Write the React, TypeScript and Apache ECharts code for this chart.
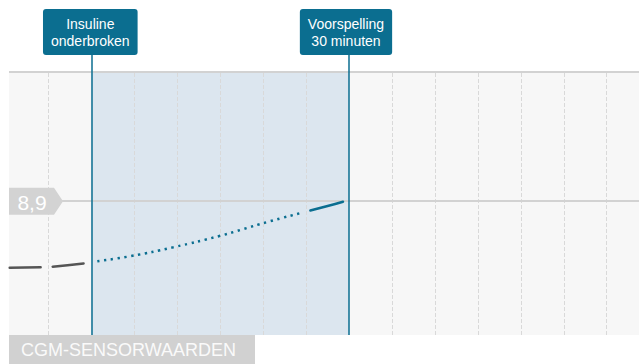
import React, { useEffect, useRef } from "react";
import * as echarts from "echarts";

// ---- data ----
const timeHistory = [-9.5, -5.6, -4.5, -0.5];
const glucoseHistory = [7.46, 7.47, 7.48, 7.56];
const timePrediction = [0.7, 4.6, 9.5, 15, 17.4, 20.5, 24.3];
const glucosePrediction = [7.6, 7.71, 7.9, 8.15, 8.28, 8.45, 8.64];
const timeForecastEnd = [25.5, 27.4, 29.3];
const glucoseForecastEnd = [8.7, 8.79, 8.89];
const gridTicks = [-5, 5, 10, 15, 20, 25, 35, 40, 45, 50, 55, 60];
const thresholdValue = 8.9;
const thresholdLabel = "8,9";
const eventTimes = [0, 30];
const eventLabels = ["Insuline\nonderbroken", "Voorspelling\n30 minuten"];
const axisTitle = "CGM-SENSORWAARDEN";

// axis ranges
const X_MIN = -9.58;
const X_MAX = 63.76;
const Y_MIN = 6;
const Y_MAX = 12.07;
const PLOT_TOP = 11.7;

const TEAL = "#0b6e90";
const FONT = "'Liberation Sans', Arial, Helvetica, sans-serif";

const zip = (a: number[], b: number[]) => a.map((v, i) => [v, b[i]]);

export default function App() {
  const ref = useRef<HTMLDivElement>(null);
  useEffect(() => {
    if (!ref.current) return;
    const chart = echarts.init(ref.current, undefined, { renderer: "svg" });
    const labelOffsets = [[-1, 0], [-3, 0]];
    chart.setOption({
      animation: false,
      textStyle: { fontFamily: FONT },
      title: {
        text: axisTitle,
        left: 9,
        top: 335,
        backgroundColor: "#d1d1d1",
        padding: [5, 19, 5, 12],
        textStyle: {
          color: "#fafafa",
          fontSize: 18,
          lineHeight: 19,
          fontWeight: "normal",
          fontFamily: FONT,
        },
      },
      grid: { left: 9, right: 0, top: 55, bottom: 29 },
      xAxis: { type: "value", min: X_MIN, max: X_MAX, show: false },
      yAxis: { type: "value", min: Y_MIN, max: Y_MAX, show: false },
      series: [
        {
          type: "line",
          name: "history",
          clip: false,
          data: zip(timeHistory, glucoseHistory),
          smooth: true,
          showSymbol: false,
          symbol: "none",
          z: 3,
          lineStyle: { color: "#555555", width: 2.5, type: [31, 12], cap: "round" },
          markArea: {
            silent: true,
            z: 0,
            data: [
              [
                { coord: [X_MIN, Y_MIN], itemStyle: { color: "#f7f7f7" } },
                { coord: [X_MAX, PLOT_TOP] },
              ],
              [
                { coord: [eventTimes[0], Y_MIN], itemStyle: { color: "#dce6ef" } },
                { coord: [eventTimes[1], PLOT_TOP] },
              ],
            ],
          },
          markLine: {
            silent: true,
            z: 1,
            symbol: "none",
            label: { show: false },
            data: [
              ...gridTicks.map((t) => [
                {
                  coord: [t, Y_MIN],
                  lineStyle: { color: "#d9d9d9", width: 1, type: [4, 2] },
                },
                { coord: [t, PLOT_TOP] },
              ]),
              [
                { coord: [X_MIN, thresholdValue], lineStyle: { color: "#d2d2d2", width: 2, type: "solid" } },
                { coord: [X_MAX, thresholdValue] },
              ],
              [
                { coord: [X_MIN, PLOT_TOP], lineStyle: { color: "#d2d2d2", width: 2, type: "solid" } },
                { coord: [X_MAX, PLOT_TOP] },
              ],
            ],
          },
        },
        {
          type: "line",
          name: "prediction",
          clip: false,
          data: zip(timePrediction, glucosePrediction),
          smooth: true,
          showSymbol: false,
          symbol: "none",
          z: 3,
          lineStyle: { color: TEAL, width: 2.5, type: [2.3, 4.55], cap: "butt" },
        },
        {
          type: "line",
          name: "forecast",
          clip: false,
          data: zip(timeForecastEnd, glucoseForecastEnd),
          smooth: true,
          showSymbol: false,
          symbol: "none",
          z: 3,
          lineStyle: { color: TEAL, width: 2.5, type: "solid", cap: "round" },
          markLine: {
            silent: true,
            z: 6,
            symbol: "none",
            data: eventTimes.map((t, i) => [
              {
                coord: [t, Y_MIN],
                lineStyle: { color: TEAL, width: 1.5, type: "solid" },
                label: {
                  show: true,
                  position: "end",
                  distance: 0,
                  formatter: eventLabels[i],
                  backgroundColor: TEAL,
                  color: "#ffffff",
                  fontSize: 14,
                  lineHeight: 17,
                  padding: [6, 8, 6, 8],
                  borderRadius: 3,
                  align: "center",
                  fontFamily: FONT,
                  offset: labelOffsets[i],
                },
              },
              { coord: [t, Y_MAX] },
            ]),
          },
          markPoint: {
            silent: true,
            z: 7,
            data: [
              {
                coord: [X_MIN, thresholdValue],
                symbol: "path://M0,0L45,0L54,13.5L45,27L0,27Z",
                symbolSize: [54, 27],
                symbolOffset: [27, 0],
                itemStyle: { color: "#d3d3d3" },
                label: {
                  show: true,
                  position: "inside",
                  formatter: thresholdLabel,
                  color: "#ffffff",
                  fontSize: 21,
                  offset: [-4, 1],
                  fontFamily: FONT,
                },
              },
            ],
          },
        },
      ],
    });
    return () => chart.dispose();
  }, []);
  return (
    <div
      ref={ref}
      style={{ position: "fixed", left: 0, top: 0, width: 639, height: 364, background: "#ffffff" }}
    />
  );
}
